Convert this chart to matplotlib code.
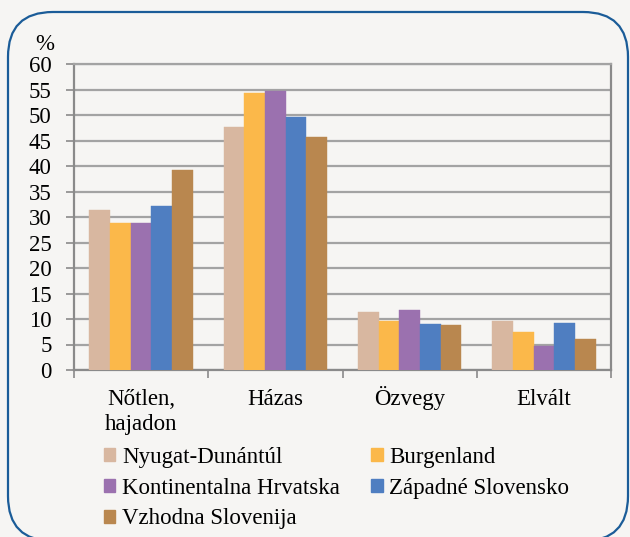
import matplotlib
matplotlib.use("Agg")
import matplotlib.pyplot as plt
import numpy as np
from matplotlib.patches import FancyBboxPatch, Patch
from matplotlib.transforms import IdentityTransform
from matplotlib.font_manager import FontProperties

categories = ["Nőtlen,\nhajadon", "Házas", "Özvegy", "Elvált"]
series_names = ["Nyugat-Dunántúl", "Burgenland", "Kontinentalna Hrvatska",
                "Západné Slovensko", "Vzhodna Slovenija"]
nyugat = [31.4, 47.6, 11.4, 9.6]
burgenland = [28.8, 54.3, 9.6, 7.4]
hrvatska = [28.8, 54.7, 11.8, 4.7]
zapadne = [32.2, 49.6, 9.0, 9.2]
vzhodna = [39.2, 45.7, 8.9, 6.1]
series_values = [nyugat, burgenland, hrvatska, zapadne, vzhodna]
colors = ["#d8b7a0", "#fbb84a", "#9b71af", "#4f7ec1", "#b9874f"]
yticks = list(range(0, 61, 5))

FAM = ['Liberation Serif', 'DejaVu Serif']
plt.rcParams['font.family'] = FAM
FS = 16.5
fp = FontProperties(family=FAM, size=FS)
bg = "#f6f5f3"
W, H = 630, 537
fig = plt.figure(figsize=(W / 100, H / 100), dpi=100, facecolor=bg)
ax = fig.add_axes([74 / W, 1 - 370 / H, (611 - 74) / W, (370 - 64) / H])
ax.set_facecolor(bg)

x = np.arange(len(categories))
bw = 0.154
n = len(series_values)
for i, (vals, c, name) in enumerate(zip(series_values, colors, series_names)):
    offs = (i - (n - 1) / 2) * bw
    ax.bar(x + offs, vals, width=bw, color=c, label=name, zorder=3,
           edgecolor=c, linewidth=0.3)

ax.set_xlim(-0.5, len(categories) - 0.5)
ax.set_ylim(0, 60)
ax.set_yticks(yticks)
ax.set_yticklabels([str(t) for t in yticks], fontproperties=fp)
ax.yaxis.grid(True, color="#a3a3a3", linewidth=1.6, zorder=0)
ax.set_axisbelow(True)

ax.set_xticks(x)
ax.set_xticklabels(categories, fontproperties=fp, linespacing=1.22)
ax.set_xticks(np.arange(-0.5, len(categories)), minor=True)
ax.tick_params(axis='x', which='major', length=0, pad=25)
ax.tick_params(axis='x', which='minor', length=6, width=1.2, color="#8a8a8a")
ax.tick_params(axis='y', length=6, width=1.2, color="#8a8a8a", pad=10)
for k, lab in enumerate(ax.get_xticklabels()):
    lab.set_verticalalignment('baseline')
    nlines = categories[k].count("\n")
    lab.set_y(-nlines * 25 / 306)

for s in ax.spines.values():
    s.set_color("#8a8a8a")
    s.set_linewidth(1.6)
ax.spines['top'].set_color("#a3a3a3")

ax.text(-0.055, 1.03, "%", transform=ax.transAxes, fontproperties=fp,
        ha='center', va='bottom')

order = [0, 2, 4, 1, 3]
handles = [Patch(facecolor=colors[k], edgecolor=colors[k]) for k in order]
labels = [series_names[k] for k in order]
fig.legend(handles, labels, loc='upper left',
           bbox_to_anchor=(104 / W, 1 - 447 / H), ncol=2, frameon=False,
           prop=fp, handlelength=0.5, handleheight=0.5,
           handletextpad=0.28, columnspacing=1.38, labelspacing=0.42,
           borderpad=0, borderaxespad=0)

border = FancyBboxPatch((8, -4), 620, H - 12 + 4,
                        boxstyle="round,pad=0,rounding_size=45",
                        transform=IdentityTransform(), facecolor='none',
                        edgecolor="#1b5c98", linewidth=1.6, zorder=10)
fig.add_artist(border)

fig.savefig("out.png", dpi=100, facecolor=bg)
